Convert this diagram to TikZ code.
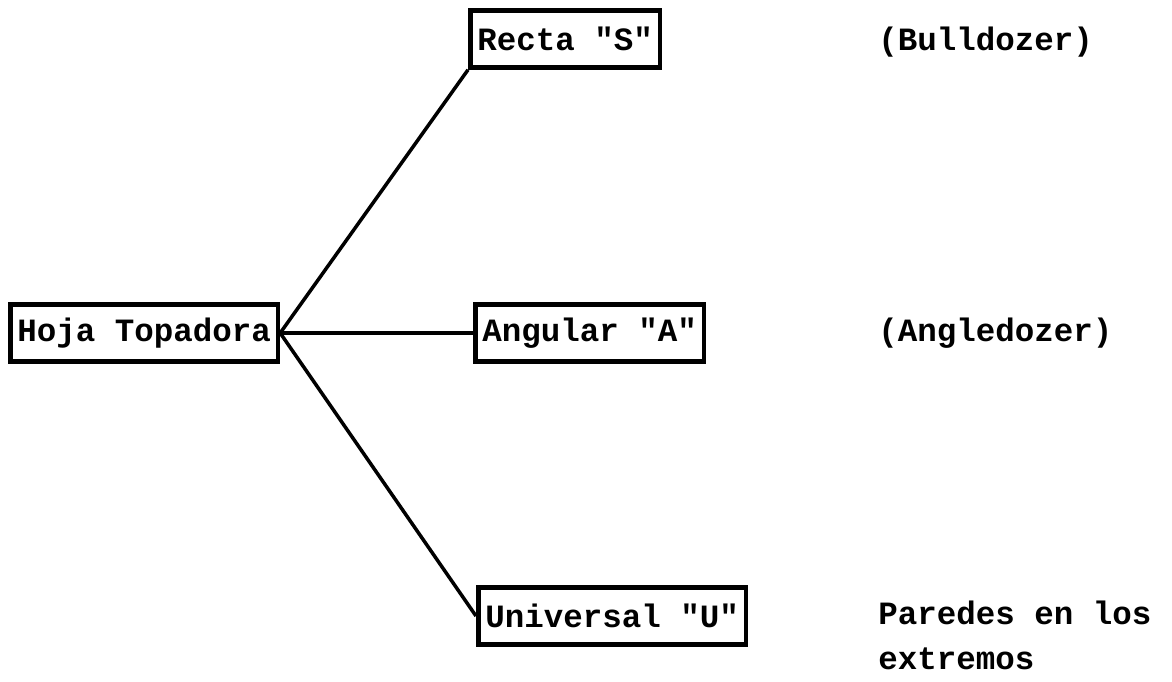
\documentclass[tikz,border=0pt]{standalone}
\usepackage{fontspec}
\setmonofont{Liberation Mono}
\usetikzlibrary{positioning}

\begin{document}
\begin{tikzpicture}[x=0.02cm,y=-0.02cm]
\tikzset{every node/.style={font=\ttfamily\bfseries\fontsize{18.5}{26}\selectfont}}
\tikzset{blade/.style={draw,line width=2.6pt,anchor=west,minimum height=1.14cm,inner xsep=4pt}}
\tikzset{link/.style={line width=2pt}}
\tikzset{note/.style={anchor=base west,align=left,inner sep=0pt}}

\useasboundingbox (0,0) rectangle (1172,681);

\node[blade] (hoja) at (8,333) {Hoja Topadora};
\node[blade] (recta) at (468,39) {Recta "S"};
\node[blade] (angular) at (473,333) {Angular "A"};
\node[blade] (universal) at (476,616) {Universal "U"};

\coordinate (col) at (878,0);
\node[note] (bull) at (col |- recta.base) {(Bulldozer)};
\node[note] (angle) at (col |- angular.base) {(Angledozer)};
\node[note] (paredes) at ([yshift=-24pt]col |- universal.base) {Paredes en los\\extremos};

\draw[link] (hoja.east) -- (recta.south west);
\draw[link] (hoja.east) -- (angular.west);
\draw[link] (hoja.east) -- (universal.west);

\end{tikzpicture}
\end{document}
